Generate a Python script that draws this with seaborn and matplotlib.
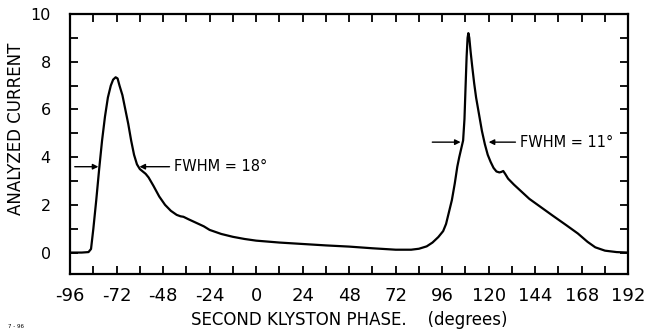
import numpy as np
import pandas as pd
import matplotlib
matplotlib.use('Agg')
import matplotlib.pyplot as plt
import seaborn as sns
from matplotlib.ticker import MultipleLocator

# data
phase = [-96, -90, -86.5, -85.2, -84, -82.5, -81, -79.5, -78, -76.5, -75, -73.8,
         -72.5, -71.5, -70.5, -69, -67.5, -66, -64.5, -63, -61.5, -60, -58.5,
         -57, -55.5, -53, -50, -47, -44, -41, -39, -37.5, -35, -31, -27, -24,
         -18, -12, -6, 0, 12, 24, 36, 48, 60, 72, 80, 84, 88, 91, 94, 96.5, 98,
         99.5, 101, 102.5, 103.8, 104.8, 105.8, 106.8, 107.5, 108, 108.6, 109.1,
         109.5, 110, 110.7, 111.5, 112.5, 113.5, 115, 116.5, 118, 119.5, 121,
         122.5, 124, 125.5, 126.5, 127.5, 128.5, 130, 133, 137, 141, 147, 153,
         160, 166, 171, 175, 180, 186, 192]
current = [0, 0, 0.02, 0.15, 1.0, 2.2, 3.5, 4.7, 5.7, 6.5, 7.0, 7.25,
           7.35, 7.3, 7.0, 6.6, 6.0, 5.4, 4.7, 4.1, 3.7, 3.5, 3.4,
           3.3, 3.15, 2.8, 2.35, 2.0, 1.75, 1.58, 1.52, 1.5, 1.4, 1.25, 1.1, 0.95,
           0.78, 0.66, 0.57, 0.5, 0.42, 0.36, 0.3, 0.25, 0.18, 0.12, 0.12, 0.16,
           0.26, 0.42, 0.65, 0.9, 1.2, 1.7, 2.2, 2.9, 3.6, 4.0, 4.35, 4.7, 5.6,
           6.8, 8.2, 9.0, 9.2, 9.0, 8.4, 7.8, 7.1, 6.5, 5.8, 5.1, 4.55, 4.1, 3.8,
           3.55, 3.4, 3.36, 3.38, 3.42, 3.3, 3.1, 2.85, 2.55, 2.25, 1.9, 1.55,
           1.15, 0.8, 0.45, 0.22, 0.08, 0.02, 0.0]

# FWHM markers: (left arrow start, left edge, right edge, right arrow start, level, label)
fwhm_left = (-93.6, -81.4, -60.2, -44.7, 3.6, 'FWHM = 18°')
fwhm_right = (90.9, 105.5, 120.0, 133.8, 4.63, 'FWHM = 11°')

df = pd.DataFrame({'phase': phase, 'current': current})

sns.set_style('ticks')
plt.rcParams['font.family'] = ['DejaVu Sans']
plt.rcParams['axes.unicode_minus'] = False
plt.rcParams['text.color'] = 'black'
plt.rcParams['axes.labelcolor'] = 'black'
plt.rcParams['xtick.color'] = 'black'
plt.rcParams['ytick.color'] = 'black'

fig = plt.figure(figsize=(6.49, 3.35), dpi=100)
ax = fig.add_axes([0.108, 0.182, 0.86, 0.776])
sns.lineplot(data=df, x='phase', y='current', ax=ax, color='black',
             linewidth=1.6, sort=False)

for x0, x1, x2, x3, lvl, txt in (fwhm_left, fwhm_right):
    ax.annotate('', xy=(x1, lvl), xytext=(x0, lvl),
                arrowprops=dict(arrowstyle='-|>', color='black', lw=1.0,
                                mutation_scale=8, shrinkA=0, shrinkB=0))
    ax.annotate('', xy=(x2, lvl), xytext=(x3, lvl),
                arrowprops=dict(arrowstyle='-|>', color='black', lw=1.0,
                                mutation_scale=8, shrinkA=0, shrinkB=0))
    ax.text(x3 + 2.5, lvl, txt, va='center', ha='left', fontsize=10.5)

ax.set_xlim(-96, 192)
ax.set_ylim(-0.9, 10)
ax.xaxis.set_major_locator(MultipleLocator(24))
ax.xaxis.set_minor_locator(MultipleLocator(12))
ax.yaxis.set_major_locator(MultipleLocator(2))
ax.yaxis.set_minor_locator(MultipleLocator(1))
ax.tick_params(which='both', direction='in', top=True, right=True,
               length=6, width=1.3, color='black')
ax.tick_params(axis='x', labelsize=13, pad=9)
ax.tick_params(axis='y', labelsize=11.5, pad=14)
for s in ax.spines.values():
    s.set_linewidth(1.6)
    s.set_color('black')

ax.set_xlabel('SECOND KLYSTON PHASE.    (degrees)', fontsize=12, labelpad=5)
ax.set_ylabel('ANALYZED CURRENT', fontsize=12)
ax.yaxis.set_label_coords(-0.08, 0.56)
fig.text(0.012, 0.02, '7 - 96', fontsize=4)

fig.savefig('out.png', dpi=100)
